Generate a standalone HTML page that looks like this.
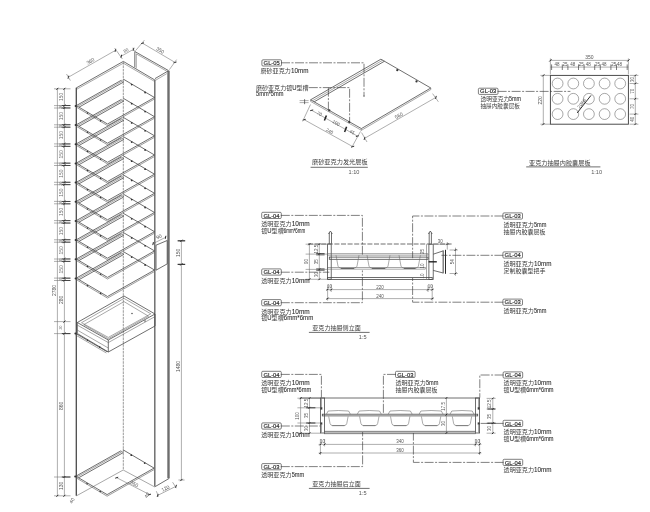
<!DOCTYPE html>
<html lang="zh">
<head>
<meta charset="utf-8">
<title>亚克力展柜节点图</title>
<style>
html,body{margin:0;padding:0;background:#fff;}
body{width:650px;height:512px;overflow:hidden;font-family:"Liberation Sans",sans-serif;}
svg{display:block;position:absolute;left:0;top:0;}
.ink{filter:blur(.3px);}
.txt{filter:blur(.15px);}
line,polyline,polygon,path,rect,circle{fill:none;stroke-linecap:butt;stroke-linejoin:miter;}
.k{stroke:#4a4a4a;stroke-width:.8;}
.k2{stroke:#5a5a5a;stroke-width:.6;}
.kr{stroke:#444;stroke-width:.95;}
.h3{stroke:#666;stroke-width:1.4;}
.cd{stroke:#555;stroke-width:.6;stroke-dasharray:2.6 .8;}
.kf{stroke:#555;stroke-width:.6;fill:#bbb;}
.t{stroke:#606060;stroke-width:.55;}
.cp{stroke:#666;stroke-width:.55;}
.d{stroke:#6c6c6c;stroke-width:.55;}
.dk{stroke:#2a2a2a;stroke-width:1;}
.dk2{stroke:#444;stroke-width:.7;}
.h{stroke:#6e6e6e;stroke-width:2.4;}
.h2{stroke:#4a4a4a;stroke-width:1.3;}
.hk{stroke:#2a2a2a;stroke-width:1;}
.hk2{stroke:#222;stroke-width:1.4;}
.ld{stroke:#3c3c3c;stroke-width:.65;stroke-dasharray:9 1.5 2 1.5;}
.tg{stroke:#3a3a3a;stroke-width:.65;fill:#fff;}
.dot{fill:#333;stroke:none;}
.blk{fill:#3a3a3a;stroke:none;}
.blk2{stroke:#222;stroke-width:1.5;}
text{font-family:"Liberation Sans",sans-serif;fill:#555;stroke:none;}
.tx{font-size:6.3px;fill:#2e2e2e;stroke:#2e2e2e;stroke-width:.08px;}
.cj{font-family:"Liberation Sans","Noto Sans CJK SC",sans-serif;fill:#3c3c3c;stroke:none;}
.tt{font-size:6.1px;fill:#262626;stroke:#262626;stroke-width:.16px;}
.sc{font-size:5.6px;fill:#555;}
.dm{font-size:5px;fill:#555;}
.ds{font-size:4.5px;fill:#555;}
.dx{font-size:4.5px;fill:#555;}
.dz{font-size:3.4px;fill:#777;}
.dl{font-size:4.9px;fill:#707070;}
</style>
</head>
<body>
<svg width="650" height="512" viewBox="0 0 650 512">
<g class="ink">
<g id="cabinet">
<line class="h2" x1="76.3" y1="87.8" x2="76.3" y2="495.8"/>
<polyline class="k" points="76.3,87.9 123.3,61.4 154.5,79.8"/>
<polyline class="t" points="76.3,89.5 123.3,63.2 154.5,81.4"/>
<line class="cd" x1="123.3" y1="62" x2="123.3" y2="470"/>
<line class="h3" x1="154.8" y1="79.4" x2="154.8" y2="486.6"/>
<line class="h" x1="168.5" y1="70.8" x2="168.5" y2="478.2"/>
<line class="k" x1="155" y1="78.6" x2="168.4" y2="70.8"/>
<line class="t" x1="155.4" y1="80.4" x2="166.8" y2="73.6"/>
<polyline class="k" points="134.8,67.3 134.8,51.5 168.4,70.5"/>
<polyline class="t" points="136.3,68.2 136.3,53.9 166.8,71.2"/>
<polyline class="k" points="169.2,478.4 155.2,486.6"/>
<polyline class="t" points="76.5,495.8 123.2,470 154.8,487"/>
<polyline class="k" points="76.3,105.6 121.2,80.3"/>
<polyline class="t" points="77.5,106.3 122.4,81"/>
<polyline class="k" points="79,107.2 123.8,81.9"/>
<polyline class="t" points="121.2,80.3 123.8,81.9"/>
<polyline class="k" points="123.3,79.1 154.5,97.5 107.5,124 76.3,105.6"/>
<polyline class="k2" points="76.3,107.1 107.5,125.6 154.5,99"/>
<circle class="dot" cx="131.7" cy="84.6" r="0.9"/>
<circle class="dot" cx="145.1" cy="92.5" r="0.9"/>
<circle class="dot" cx="87.5" cy="113.1" r="0.8"/>
<circle class="dot" cx="100.6" cy="120.9" r="0.8"/>
<circle class="dot" cx="75.6" cy="105.9" r="1"/>
<polyline class="k" points="76.3,124.8 121.2,99.5"/>
<polyline class="t" points="77.5,125.5 122.4,100.2"/>
<polyline class="k" points="79,126.3 123.8,101"/>
<polyline class="t" points="121.2,99.5 123.8,101"/>
<polyline class="k" points="123.3,98.3 154.5,116.7 107.5,143.2 76.3,124.8"/>
<polyline class="k2" points="76.3,126.3 107.5,144.8 154.5,118.2"/>
<circle class="dot" cx="131.7" cy="103.7" r="0.9"/>
<circle class="dot" cx="145.1" cy="111.6" r="0.9"/>
<circle class="dot" cx="87.5" cy="132.3" r="0.8"/>
<circle class="dot" cx="100.6" cy="140" r="0.8"/>
<circle class="dot" cx="75.6" cy="125.1" r="1"/>
<polyline class="k" points="76.3,143.9 121.2,118.6"/>
<polyline class="t" points="77.5,144.7 122.4,119.4"/>
<polyline class="k" points="79,145.5 123.8,120.2"/>
<polyline class="t" points="121.2,118.6 123.8,120.2"/>
<polyline class="k" points="123.3,117.4 154.5,135.8 107.5,162.3 76.3,143.9"/>
<polyline class="k2" points="76.3,145.4 107.5,163.9 154.5,137.3"/>
<circle class="dot" cx="131.7" cy="122.9" r="0.9"/>
<circle class="dot" cx="145.1" cy="130.8" r="0.9"/>
<circle class="dot" cx="87.5" cy="151.5" r="0.8"/>
<circle class="dot" cx="100.6" cy="159.2" r="0.8"/>
<circle class="dot" cx="75.6" cy="144.2" r="1"/>
<polyline class="k" points="76.3,163.1 121.2,137.8"/>
<polyline class="t" points="77.5,163.8 122.4,138.5"/>
<polyline class="k" points="79,164.7 123.8,139.4"/>
<polyline class="t" points="121.2,137.8 123.8,139.4"/>
<polyline class="k" points="123.3,136.6 154.5,155 107.5,181.5 76.3,163.1"/>
<polyline class="k2" points="76.3,164.6 107.5,183.1 154.5,156.5"/>
<circle class="dot" cx="131.7" cy="142.1" r="0.9"/>
<circle class="dot" cx="145.1" cy="150" r="0.9"/>
<circle class="dot" cx="87.5" cy="170.6" r="0.8"/>
<circle class="dot" cx="100.6" cy="178.4" r="0.8"/>
<circle class="dot" cx="75.6" cy="163.4" r="1"/>
<polyline class="k" points="76.3,182.3 121.2,157"/>
<polyline class="t" points="77.5,183 122.4,157.7"/>
<polyline class="k" points="79,183.8 123.8,158.5"/>
<polyline class="t" points="121.2,157 123.8,158.5"/>
<polyline class="k" points="123.3,155.8 154.5,174.2 107.5,200.7 76.3,182.3"/>
<polyline class="k2" points="76.3,183.8 107.5,202.3 154.5,175.7"/>
<circle class="dot" cx="131.7" cy="161.2" r="0.9"/>
<circle class="dot" cx="145.1" cy="169.2" r="0.9"/>
<circle class="dot" cx="87.5" cy="189.8" r="0.8"/>
<circle class="dot" cx="100.6" cy="197.5" r="0.8"/>
<circle class="dot" cx="75.6" cy="182.6" r="1"/>
<polyline class="k" points="76.3,201.4 121.2,176.1"/>
<polyline class="t" points="77.5,202.2 122.4,176.9"/>
<polyline class="k" points="79,203 123.8,177.7"/>
<polyline class="t" points="121.2,176.1 123.8,177.7"/>
<polyline class="k" points="123.3,174.9 154.5,193.3 107.5,219.8 76.3,201.4"/>
<polyline class="k2" points="76.3,202.9 107.5,221.4 154.5,194.8"/>
<circle class="dot" cx="131.7" cy="180.4" r="0.9"/>
<circle class="dot" cx="145.1" cy="188.3" r="0.9"/>
<circle class="dot" cx="87.5" cy="209" r="0.8"/>
<circle class="dot" cx="100.6" cy="216.7" r="0.8"/>
<circle class="dot" cx="75.6" cy="201.8" r="1"/>
<polyline class="k" points="76.3,220.6 121.2,195.3"/>
<polyline class="t" points="77.5,221.4 122.4,196"/>
<polyline class="k" points="79,222.2 123.8,196.9"/>
<polyline class="t" points="121.2,195.3 123.8,196.9"/>
<polyline class="k" points="123.3,194.1 154.5,212.5 107.5,239 76.3,220.6"/>
<polyline class="k2" points="76.3,222.1 107.5,240.6 154.5,214"/>
<circle class="dot" cx="131.7" cy="199.6" r="0.9"/>
<circle class="dot" cx="145.1" cy="207.5" r="0.9"/>
<circle class="dot" cx="87.5" cy="228.1" r="0.8"/>
<circle class="dot" cx="100.6" cy="235.9" r="0.8"/>
<circle class="dot" cx="75.6" cy="220.9" r="1"/>
<polyline class="k" points="76.3,239.8 121.2,214.5"/>
<polyline class="t" points="77.5,240.5 122.4,215.2"/>
<polyline class="k" points="79,241.4 123.8,216"/>
<polyline class="t" points="121.2,214.5 123.8,216"/>
<polyline class="k" points="123.3,213.3 154.5,231.7 107.5,258.2 76.3,239.8"/>
<polyline class="k2" points="76.3,241.3 107.5,259.8 154.5,233.2"/>
<circle class="dot" cx="131.7" cy="218.8" r="0.9"/>
<circle class="dot" cx="145.1" cy="226.7" r="0.9"/>
<circle class="dot" cx="87.5" cy="247.3" r="0.8"/>
<circle class="dot" cx="100.6" cy="255" r="0.8"/>
<circle class="dot" cx="75.6" cy="240.1" r="1"/>
<polyline class="k" points="76.3,259 121.2,233.7"/>
<polyline class="t" points="77.5,259.7 122.4,234.4"/>
<polyline class="k" points="79,260.5 123.8,235.2"/>
<polyline class="t" points="121.2,233.7 123.8,235.2"/>
<polyline class="k" points="123.3,232.5 154.5,250.9 107.5,277.4 76.3,259"/>
<polyline class="k2" points="76.3,260.5 107.5,279 154.5,252.4"/>
<circle class="dot" cx="131.7" cy="237.9" r="0.9"/>
<circle class="dot" cx="145.1" cy="245.8" r="0.9"/>
<circle class="dot" cx="87.5" cy="266.5" r="0.8"/>
<circle class="dot" cx="100.6" cy="274.2" r="0.8"/>
<circle class="dot" cx="75.6" cy="259.3" r="1"/>
<polyline class="k" points="76.3,278.1 121.2,252.8"/>
<polyline class="t" points="77.5,278.9 122.4,253.6"/>
<polyline class="k" points="79,279.7 123.8,254.4"/>
<polyline class="t" points="121.2,252.8 123.8,254.4"/>
<polyline class="k" points="123.3,251.6 154.5,270 107.5,296.5 76.3,278.1"/>
<polyline class="k2" points="76.3,279.6 107.5,298.1 154.5,271.5"/>
<circle class="dot" cx="131.7" cy="257.1" r="0.9"/>
<circle class="dot" cx="145.1" cy="265" r="0.9"/>
<circle class="dot" cx="87.5" cy="285.7" r="0.8"/>
<circle class="dot" cx="100.6" cy="293.4" r="0.8"/>
<circle class="dot" cx="75.6" cy="278.4" r="1"/>
<polygon class="k" points="77.3,322.5 124,296 155,314 108.3,340"/>
<polygon class="t" points="81.5,322.7 124,298.4 150.8,313.8 108.3,337.4"/>
<polygon class="t" points="83.8,324.7 124,301.6 148.5,316.2 108.3,338.8"/>
<polyline class="k" points="77.3,322.5 77.3,333.5 108.3,352 155,326 155,314"/>
<line class="k" x1="108.3" y1="340" x2="108.3" y2="352"/>
<polyline class="t" points="77.3,325.1 108.3,342.6 155,316.6"/>
<line class="t" x1="77.3" y1="330.1" x2="108.3" y2="348"/>
<polyline class="k" points="75.6,333.4 107.2,351.8"/>
<polyline class="t" points="75.6,335 106.4,353"/>
<circle class="dot" cx="75.4" cy="333.6" r="1"/>
<circle class="dot" cx="87.5" cy="340.2" r="0.8"/>
<circle class="dot" cx="99.7" cy="347.1" r="0.8"/>
<circle class="dot" cx="132" cy="313.5" r="0.7"/>
<circle class="dot" cx="145" cy="321" r="0.7"/>
<polyline class="k" points="75.9,476.2 120.8,450.9"/>
<polyline class="t" points="77.1,476.9 122,451.6"/>
<polyline class="k" points="78.6,477.8 123.4,452.5"/>
<polyline class="t" points="120.8,450.9 123.4,452.5"/>
<polyline class="k" points="122.9,449.7 154.1,468.1 107.1,494.6 75.9,476.2"/>
<polyline class="k2" points="75.9,477.7 107.1,496.2 154.1,469.6"/>
<circle class="dot" cx="131.3" cy="455.2" r="0.9"/>
<circle class="dot" cx="144.7" cy="463.1" r="0.9"/>
<circle class="dot" cx="87.1" cy="483.7" r="0.8"/>
<circle class="dot" cx="100.2" cy="491.5" r="0.8"/>
<circle class="dot" cx="75.2" cy="476.5" r="1"/>
<polygon class="k" points="156,245.2 167.2,240.5 167.2,263.9 156,270.2"/>
<line class="d" x1="153.1" y1="243.6" x2="165.6" y2="237.3"/>
<line class="dk" x1="152.8" y1="245.1" x2="153.4" y2="242.1"/>
<line class="dk" x1="165.3" y1="238.8" x2="165.9" y2="235.8"/>
<line class="d" x1="57.4" y1="88.8" x2="57.4" y2="495.8"/>
<line class="d" x1="64.4" y1="88.8" x2="64.4" y2="495.8"/>
<line class="d" x1="54" y1="88.8" x2="70.5" y2="88.8"/>
<line class="dk" x1="63.4" y1="89.8" x2="65.4" y2="87.8"/>
<line class="d" x1="54" y1="105.6" x2="70.5" y2="105.6"/>
<line class="dk" x1="63.4" y1="106.6" x2="65.4" y2="104.6"/>
<line class="d" x1="54" y1="108" x2="70.5" y2="108"/>
<line class="dk" x1="63.4" y1="109" x2="65.4" y2="107"/>
<line class="d" x1="54" y1="124.8" x2="70.5" y2="124.8"/>
<line class="dk" x1="63.4" y1="125.8" x2="65.4" y2="123.8"/>
<line class="d" x1="54" y1="127.2" x2="70.5" y2="127.2"/>
<line class="dk" x1="63.4" y1="128.2" x2="65.4" y2="126.2"/>
<line class="d" x1="54" y1="143.9" x2="70.5" y2="143.9"/>
<line class="dk" x1="63.4" y1="144.9" x2="65.4" y2="143"/>
<line class="d" x1="54" y1="146.3" x2="70.5" y2="146.3"/>
<line class="dk" x1="63.4" y1="147.3" x2="65.4" y2="145.4"/>
<line class="d" x1="54" y1="163.1" x2="70.5" y2="163.1"/>
<line class="dk" x1="63.4" y1="164.1" x2="65.4" y2="162.1"/>
<line class="d" x1="54" y1="165.5" x2="70.5" y2="165.5"/>
<line class="dk" x1="63.4" y1="166.5" x2="65.4" y2="164.5"/>
<line class="d" x1="54" y1="182.3" x2="70.5" y2="182.3"/>
<line class="dk" x1="63.4" y1="183.3" x2="65.4" y2="181.3"/>
<line class="d" x1="54" y1="184.7" x2="70.5" y2="184.7"/>
<line class="dk" x1="63.4" y1="185.7" x2="65.4" y2="183.7"/>
<line class="d" x1="54" y1="201.4" x2="70.5" y2="201.4"/>
<line class="dk" x1="63.4" y1="202.4" x2="65.4" y2="200.5"/>
<line class="d" x1="54" y1="203.8" x2="70.5" y2="203.8"/>
<line class="dk" x1="63.4" y1="204.8" x2="65.4" y2="202.9"/>
<line class="d" x1="54" y1="220.6" x2="70.5" y2="220.6"/>
<line class="dk" x1="63.4" y1="221.6" x2="65.4" y2="219.6"/>
<line class="d" x1="54" y1="223" x2="70.5" y2="223"/>
<line class="dk" x1="63.4" y1="224" x2="65.4" y2="222"/>
<line class="d" x1="54" y1="239.8" x2="70.5" y2="239.8"/>
<line class="dk" x1="63.4" y1="240.8" x2="65.4" y2="238.8"/>
<line class="d" x1="54" y1="242.2" x2="70.5" y2="242.2"/>
<line class="dk" x1="63.4" y1="243.2" x2="65.4" y2="241.2"/>
<line class="d" x1="54" y1="259" x2="70.5" y2="259"/>
<line class="dk" x1="63.4" y1="259.9" x2="65.4" y2="258"/>
<line class="d" x1="54" y1="261.4" x2="70.5" y2="261.4"/>
<line class="dk" x1="63.4" y1="262.3" x2="65.4" y2="260.4"/>
<line class="d" x1="54" y1="278.1" x2="70.5" y2="278.1"/>
<line class="dk" x1="63.4" y1="279.1" x2="65.4" y2="277.1"/>
<line class="d" x1="54" y1="280.5" x2="70.5" y2="280.5"/>
<line class="dk" x1="63.4" y1="281.5" x2="65.4" y2="279.5"/>
<line class="d" x1="54" y1="321.6" x2="70.5" y2="321.6"/>
<line class="dk" x1="63.4" y1="322.6" x2="65.4" y2="320.6"/>
<line class="d" x1="54" y1="333.6" x2="70.5" y2="333.6"/>
<line class="dk" x1="63.4" y1="334.6" x2="65.4" y2="332.6"/>
<line class="d" x1="54" y1="477" x2="70.5" y2="477"/>
<line class="dk" x1="63.4" y1="478" x2="65.4" y2="476"/>
<line class="d" x1="54" y1="495.8" x2="70.5" y2="495.8"/>
<line class="dk" x1="63.4" y1="496.8" x2="65.4" y2="494.8"/>
<line class="dk" x1="56.4" y1="89.8" x2="58.4" y2="87.8"/>
<line class="dk" x1="56.4" y1="496.8" x2="58.4" y2="494.8"/>
<rect class="blk" x="61.8" y="105.1" width="8.6" height="0.9"/><rect class="blk" x="61.8" y="107.5" width="8.6" height="0.9"/>
<rect class="blk" x="61.8" y="124.3" width="8.6" height="0.9"/><rect class="blk" x="61.8" y="126.7" width="8.6" height="0.9"/>
<rect class="blk" x="61.8" y="143.5" width="8.6" height="0.9"/><rect class="blk" x="61.8" y="145.9" width="8.6" height="0.9"/>
<rect class="blk" x="61.8" y="162.7" width="8.6" height="0.9"/><rect class="blk" x="61.8" y="165.1" width="8.6" height="0.9"/>
<rect class="blk" x="61.8" y="181.8" width="8.6" height="0.9"/><rect class="blk" x="61.8" y="184.2" width="8.6" height="0.9"/>
<rect class="blk" x="61.8" y="201" width="8.6" height="0.9"/><rect class="blk" x="61.8" y="203.4" width="8.6" height="0.9"/>
<rect class="blk" x="61.8" y="220.2" width="8.6" height="0.9"/><rect class="blk" x="61.8" y="222.6" width="8.6" height="0.9"/>
<rect class="blk" x="61.8" y="239.3" width="8.6" height="0.9"/><rect class="blk" x="61.8" y="241.7" width="8.6" height="0.9"/>
<rect class="blk" x="61.8" y="258.5" width="8.6" height="0.9"/><rect class="blk" x="61.8" y="260.9" width="8.6" height="0.9"/>
<rect class="blk" x="61.8" y="277.7" width="8.6" height="0.9"/><rect class="blk" x="61.8" y="280.1" width="8.6" height="0.9"/>
<rect class="blk" x="61.8" y="333.1" width="8.6" height="1"/>
<rect class="blk" x="61.8" y="476.5" width="8.6" height="1"/>
<line class="d" x1="68.4" y1="77.2" x2="115.4" y2="50.4"/>
<line class="dk" x1="68" y1="78.7" x2="68.8" y2="75.7"/>
<line class="dk" x1="115" y1="51.9" x2="115.8" y2="48.9"/>
<line class="d" x1="66.5" y1="74" x2="70.4" y2="80.6"/>
<line class="d" x1="114.6" y1="48" x2="122.4" y2="59"/>
<line class="d" x1="121.3" y1="56.2" x2="133.5" y2="49.3"/>
<line class="dk" x1="120.9" y1="57.7" x2="121.7" y2="54.7"/>
<line class="dk" x1="133.1" y1="50.8" x2="133.9" y2="47.8"/>
<line class="d" x1="132.6" y1="47.8" x2="134.6" y2="51.2"/>
<line class="d" x1="142.5" y1="43.2" x2="175" y2="62.4"/>
<line class="dk" x1="141" y1="43.6" x2="144" y2="42.8"/>
<line class="dk" x1="173.5" y1="62.8" x2="176.5" y2="62"/>
<line class="d" x1="144.4" y1="40.2" x2="135.6" y2="50.6"/>
<line class="d" x1="176.6" y1="59.6" x2="169.4" y2="69.6"/>
<line class="d" x1="181.4" y1="240.8" x2="181.4" y2="480"/>
<line class="d" x1="178.4" y1="240.8" x2="184.6" y2="240.8"/>
<line class="dk" x1="180.3" y1="241.9" x2="182.5" y2="239.7"/>
<line class="d" x1="178.4" y1="264.4" x2="184.6" y2="264.4"/>
<line class="dk" x1="180.3" y1="265.5" x2="182.5" y2="263.3"/>
<line class="d" x1="178.4" y1="480" x2="184.6" y2="480"/>
<line class="dk" x1="180.3" y1="481.1" x2="182.5" y2="478.9"/>
<rect class="blk" x="177.6" y="240.2" width="7.6" height="1.2"/><rect class="blk" x="177.6" y="263.8" width="7.6" height="1.2"/>
<line class="d" x1="116.7" y1="477.7" x2="149.5" y2="494.6"/>
<line class="dk" x1="115.2" y1="478.2" x2="118.2" y2="477.2"/>
<line class="dk" x1="148" y1="495.1" x2="151" y2="494.1"/>
<line class="d" x1="157.7" y1="495.4" x2="176" y2="486.3"/>
<line class="dk" x1="157.2" y1="496.9" x2="158.2" y2="493.9"/>
<line class="dk" x1="175.5" y1="487.8" x2="176.5" y2="484.8"/>
<line class="d" x1="156.3" y1="491.2" x2="158.6" y2="496.6"/>
<line class="d" x1="172.6" y1="482.2" x2="176.4" y2="488.2"/>
</g>
<g id="s1">
<polygon class="k" points="310.6,99.8 380.9,59.2 430.8,88 361.4,128.6"/>
<polyline class="t" points="310.6,101.4 361.4,130.3 430.8,89.6"/>
<line class="t" x1="310.6" y1="99.8" x2="310.6" y2="101.4"/>
<line class="t" x1="361.4" y1="128.6" x2="361.4" y2="130.3"/>
<line class="t" x1="430.8" y1="88" x2="430.8" y2="89.6"/>
<polyline class="k" points="314.2,101.8 384.5,61.2"/>
<polyline class="t" points="312.4,100.8 382.7,60.2"/>
<circle class="dot" cx="397.3" cy="70.2" r="1.1"/>
<circle class="dot" cx="416.5" cy="81.4" r="1.1"/>
<circle class="dot" cx="329.3" cy="110.4" r="1.1"/>
<circle class="dot" cx="349.2" cy="122" r="1.1"/>
<rect class="tg" x="261.9" y="59.8" width="19.6" height="6.2" rx="1.1"/>
<polyline class="ld" points="281,62.8 364,62.8 364,95.5"/>
<circle class="dot" cx="364" cy="96" r="0.7"/>
<polyline class="ld" points="308.8,87.6 349.6,87.6 349.6,121.4"/>
<line class="ld" x1="328.4" y1="87.6" x2="328.4" y2="110"/>
<line class="d" x1="299.6" y1="100.6" x2="308.6" y2="100.6"/>
<line class="d" x1="299.6" y1="102.6" x2="308.6" y2="102.6"/>
<line class="k" x1="304.6" y1="99.2" x2="304.6" y2="104.2"/>
<line class="d" x1="311.7" y1="110.3" x2="357.4" y2="136.1"/>
<line class="dk" x1="310.2" y1="110.7" x2="313.2" y2="109.9"/>
<line class="dk" x1="355.9" y1="136.5" x2="358.9" y2="135.7"/>
<line class="d" x1="304.2" y1="119.7" x2="352.7" y2="146.6"/>
<line class="dk" x1="302.7" y1="120.1" x2="305.7" y2="119.3"/>
<line class="dk" x1="351.2" y1="147" x2="354.2" y2="146.2"/>
<line class="d" x1="310.5" y1="104.5" x2="302.6" y2="121.4"/>
<line class="d" x1="360.5" y1="131.4" x2="351.4" y2="148"/>
<line class="blk2" x1="324.4" y1="120.6" x2="326.4" y2="115.4"/>
<line class="blk2" x1="344.6" y1="132" x2="346.6" y2="126.8"/>
<line class="d" x1="364.5" y1="138.4" x2="435.9" y2="97.4"/>
<line class="dk" x1="364.1" y1="139.9" x2="364.9" y2="136.9"/>
<line class="dk" x1="435.5" y1="98.9" x2="436.3" y2="95.9"/>
<line class="d" x1="361.6" y1="132.6" x2="367" y2="142"/>
<line class="d" x1="432.6" y1="93.6" x2="438.4" y2="101.8"/>
<line class="k" x1="310.6" y1="167.3" x2="367.8" y2="167.3"/>
</g>
<g id="s2">
<rect class="kr" x="550.4" y="75.4" width="78" height="48.8"/>
<circle class="t" cx="557.6" cy="83.5" r="5.4"/>
<circle class="t" cx="573.3" cy="83.5" r="5.4"/>
<circle class="t" cx="588.9" cy="83.5" r="5.4"/>
<circle class="t" cx="604.6" cy="83.5" r="5.4"/>
<circle class="t" cx="620.2" cy="83.5" r="5.4"/>
<circle class="t" cx="557.6" cy="98.8" r="5.4"/>
<circle class="t" cx="573.3" cy="98.8" r="5.4"/>
<circle class="t" cx="588.9" cy="98.8" r="5.4"/>
<circle class="t" cx="604.6" cy="98.8" r="5.4"/>
<circle class="t" cx="620.2" cy="98.8" r="5.4"/>
<circle class="t" cx="557.6" cy="114.1" r="5.4"/>
<circle class="t" cx="573.3" cy="114.1" r="5.4"/>
<circle class="t" cx="588.9" cy="114.1" r="5.4"/>
<circle class="t" cx="604.6" cy="114.1" r="5.4"/>
<circle class="t" cx="620.2" cy="114.1" r="5.4"/>
<line class="d" x1="550.4" y1="60.4" x2="628.4" y2="60.4"/>
<line class="d" x1="550.4" y1="67.1" x2="628.4" y2="67.1"/>
<line class="dk2" x1="551.6" y1="64.4" x2="551.6" y2="70"/>
<line class="dk2" x1="562.3" y1="64.4" x2="562.3" y2="70"/>
<line class="dk2" x1="567.9" y1="64.4" x2="567.9" y2="70"/>
<line class="dk2" x1="578.5" y1="64.4" x2="578.5" y2="70"/>
<line class="dk2" x1="584.1" y1="64.4" x2="584.1" y2="70"/>
<line class="dk2" x1="594.7" y1="64.4" x2="594.7" y2="70"/>
<line class="dk2" x1="600.3" y1="64.4" x2="600.3" y2="70"/>
<line class="dk2" x1="610.9" y1="64.4" x2="610.9" y2="70"/>
<line class="dk2" x1="616.5" y1="64.4" x2="616.5" y2="70"/>
<line class="dk2" x1="627.2" y1="64.4" x2="627.2" y2="70"/>
<line class="d" x1="550.4" y1="58.4" x2="550.4" y2="74.4"/>
<line class="dk" x1="549.3" y1="61.5" x2="551.5" y2="59.3"/>
<line class="d" x1="628.4" y1="58.4" x2="628.4" y2="74.4"/>
<line class="dk" x1="627.3" y1="61.5" x2="629.5" y2="59.3"/>
<line class="d" x1="543.3" y1="75.4" x2="543.3" y2="124.2"/>
<line class="d" x1="540.4" y1="75.4" x2="550.4" y2="75.4"/>
<line class="dk" x1="542.2" y1="76.5" x2="544.4" y2="74.3"/>
<line class="d" x1="540.4" y1="124.2" x2="550.4" y2="124.2"/>
<line class="dk" x1="542.2" y1="125.3" x2="544.4" y2="123.1"/>
<line class="d" x1="635.3" y1="75.4" x2="635.3" y2="124.2"/>
<line class="d" x1="629.6" y1="75.4" x2="638.4" y2="75.4"/>
<line class="dk" x1="634.4" y1="76.3" x2="636.2" y2="74.5"/>
<line class="d" x1="629.6" y1="83.5" x2="638.4" y2="83.5"/>
<line class="dk" x1="634.4" y1="84.4" x2="636.2" y2="82.6"/>
<line class="d" x1="629.6" y1="98.8" x2="638.4" y2="98.8"/>
<line class="dk" x1="634.4" y1="99.7" x2="636.2" y2="97.9"/>
<line class="d" x1="629.6" y1="114.1" x2="638.4" y2="114.1"/>
<line class="dk" x1="634.4" y1="115" x2="636.2" y2="113.2"/>
<line class="d" x1="629.6" y1="124.2" x2="638.4" y2="124.2"/>
<line class="dk" x1="634.4" y1="125.1" x2="636.2" y2="123.3"/>
<rect class="tg" x="478.4" y="88.2" width="19.6" height="6.2" rx="1.1"/>
<line class="ld" x1="497.6" y1="91.4" x2="570.4" y2="91.4"/>
<line class="hk" x1="577.2" y1="112.9" x2="591" y2="95.4"/>
<line class="k" x1="526.2" y1="166.9" x2="600.4" y2="166.9"/>
</g>
<g id="s3">
<line class="k" x1="308" y1="244" x2="452" y2="244" stroke-dasharray="5 1.6"/>
<rect class="k" x="327.6" y="244" width="3.6" height="35.2"/>
<rect class="k" x="428.9" y="244.2" width="4.3" height="35.2"/>
<line class="t" x1="426.5" y1="244.2" x2="426.5" y2="279"/>
<rect class="t" x="327.6" y="253.8" width="100.4" height="1.3"/>
<rect class="k" x="329.3" y="257.1" width="98.7" height="2.2"/>
<rect class="t" x="327.6" y="267.6" width="97.6" height="1.5"/>
<rect class="k" x="327.6" y="277.5" width="104.6" height="1.9"/>
<path class="cp" d="M336 255.2 L338 266.2 Q339.4 268.4 341.6 268.4 L353.4 268.4 Q355.6 268.4 357 266.2 L359 255.2"/>
<line class="k" x1="340.9" y1="268.4" x2="354.1" y2="268.4"/>
<path class="cp" d="M367 255.2 L369 266.2 Q370.4 268.4 372.6 268.4 L384.4 268.4 Q386.6 268.4 388 266.2 L390 255.2"/>
<line class="k" x1="371.9" y1="268.4" x2="385.1" y2="268.4"/>
<path class="cp" d="M399 255.2 L401 266.2 Q402.4 268.4 404.6 268.4 L414.8 268.4 Q417 268.4 418.4 266.2 L420.4 255.2"/>
<line class="k" x1="403.9" y1="268.4" x2="415.5" y2="268.4"/>
<line class="k" x1="329.3" y1="232.6" x2="329.3" y2="243.8"/>
<line class="k" x1="331.5" y1="232.6" x2="331.5" y2="243.8"/>
<polyline class="k" points="328.5,234 330.4,231 332.3,234"/>
<line class="k" x1="429.2" y1="232.6" x2="429.2" y2="243.8"/>
<line class="k" x1="431.4" y1="232.6" x2="431.4" y2="243.8"/>
<polyline class="k" points="428.4,234 430.3,231 432.2,234"/>
<polyline class="k" points="433.2,254.2 443.2,250.9 443.2,273 433.2,270.4"/>
<line class="t" x1="443.2" y1="250" x2="443.2" y2="273.6"/>
<line class="hk" x1="445.5" y1="249.8" x2="445.5" y2="273.8"/>
<line class="hk2" x1="428.6" y1="261.8" x2="436.8" y2="261.8"/>
<line class="d" x1="309.4" y1="243.6" x2="309.4" y2="279.3"/>
<line class="d" x1="319.3" y1="243.6" x2="319.3" y2="279.3"/>
<line class="d" x1="305.6" y1="244.2" x2="327.6" y2="244.2"/>
<line class="dk" x1="318.4" y1="245.1" x2="320.2" y2="243.3"/>
<line class="d" x1="305.6" y1="254.1" x2="327.6" y2="254.1"/>
<line class="dk" x1="318.4" y1="255" x2="320.2" y2="253.2"/>
<line class="d" x1="305.6" y1="269.4" x2="327.6" y2="269.4"/>
<line class="dk" x1="318.4" y1="270.3" x2="320.2" y2="268.5"/>
<line class="d" x1="305.6" y1="279.3" x2="327.6" y2="279.3"/>
<line class="dk" x1="318.4" y1="280.2" x2="320.2" y2="278.4"/>
<line class="dk" x1="308.4" y1="245.2" x2="310.4" y2="243.2"/>
<line class="dk" x1="308.4" y1="280.3" x2="310.4" y2="278.3"/>
<rect class="blk" x="316.2" y="253.2" width="8.4" height="0.8"/><rect class="blk" x="316.2" y="254.5" width="8.4" height="0.8"/>
<rect class="blk" x="316.2" y="268.5" width="8.4" height="0.8"/><rect class="blk" x="316.2" y="269.8" width="8.4" height="0.8"/>
<line class="d" x1="326" y1="289.6" x2="434" y2="289.6"/>
<line class="d" x1="326" y1="298.6" x2="434" y2="298.6"/>
<line class="d" x1="327.6" y1="285" x2="327.6" y2="300.6"/>
<line class="dk" x1="326.7" y1="290.5" x2="328.5" y2="288.7"/>
<line class="d" x1="331.2" y1="285" x2="331.2" y2="292"/>
<line class="dk" x1="330.3" y1="290.5" x2="332.1" y2="288.7"/>
<line class="d" x1="428" y1="285" x2="428" y2="292"/>
<line class="dk" x1="427.1" y1="290.5" x2="428.9" y2="288.7"/>
<line class="d" x1="432.2" y1="285" x2="432.2" y2="300.6"/>
<line class="dk" x1="431.3" y1="290.5" x2="433.1" y2="288.7"/>
<line class="dk" x1="326.6" y1="299.6" x2="328.6" y2="297.6"/>
<line class="dk" x1="431.2" y1="299.6" x2="433.2" y2="297.6"/>
<line class="d" x1="433.2" y1="244.2" x2="449.4" y2="244.2"/>
<line class="dk" x1="446.4" y1="245.1" x2="448.2" y2="243.3"/>
<line class="d" x1="447.3" y1="242" x2="447.3" y2="249.6"/>
<line class="d" x1="455.5" y1="247.7" x2="455.5" y2="275.8"/>
<line class="d" x1="449.6" y1="250" x2="457.8" y2="250"/>
<line class="dk" x1="454.6" y1="250.9" x2="456.4" y2="249.1"/>
<line class="d" x1="449.6" y1="273.5" x2="457.8" y2="273.5"/>
<line class="dk" x1="454.6" y1="274.4" x2="456.4" y2="272.6"/>
<rect class="tg" x="261.7" y="212.3" width="19.6" height="6.2" rx="1.1"/>
<polyline class="ld" points="280.8,215.4 362.4,215.4 362.4,254.6"/>
<rect class="tg" x="261.7" y="268.9" width="19.6" height="6.2" rx="1.1"/>
<line class="ld" x1="280.8" y1="272.2" x2="329.4" y2="272.2"/>
<rect class="tg" x="261.7" y="299.6" width="19.6" height="6.2" rx="1.1"/>
<polyline class="ld" points="280.8,302.7 362.4,302.7 362.4,270.4"/>
<rect class="tg" x="502.9" y="212.9" width="19.6" height="6.2" rx="1.1"/>
<polyline class="ld" points="503.4,216 412.6,216 412.6,258.2"/>
<rect class="tg" x="502.9" y="251.9" width="19.6" height="6.2" rx="1.1"/>
<line class="ld" x1="503.4" y1="255.3" x2="441.4" y2="255.3"/>
<rect class="tg" x="502.9" y="299.1" width="19.6" height="6.2" rx="1.1"/>
<polyline class="ld" points="503.4,302.2 412.6,302.2 412.6,278"/>
<line class="k" x1="308.9" y1="332.4" x2="369.6" y2="332.4"/>
</g>
<g id="s4">
<line class="k" x1="300" y1="398" x2="480" y2="398"/>
<rect class="k" x="320.4" y="398" width="4.2" height="35"/>
<rect class="k" x="475.4" y="398" width="4.2" height="35"/>
<line class="t" x1="321.5" y1="398.4" x2="321.5" y2="407.2"/>
<line class="t" x1="321.5" y1="424.6" x2="321.5" y2="432.6"/>
<rect class="blk" x="320.4" y="407.2" width="1.9" height="2.4"/><rect class="blk" x="320.4" y="422.4" width="1.9" height="2.2"/>
<line class="t" x1="478.5" y1="398.4" x2="478.5" y2="407.2"/>
<line class="t" x1="478.5" y1="424.6" x2="478.5" y2="432.6"/>
<rect class="blk" x="477.7" y="407.2" width="1.9" height="2.4"/><rect class="blk" x="477.7" y="422.4" width="1.9" height="2.2"/>
<rect class="k" x="322.3" y="414.2" width="155.4" height="1.7"/>
<rect class="kf" x="324.6" y="431.2" width="150.8" height="2.6"/>
<path class="t" d="M326.4 414.2 L328.2 411 Q338.4 410 348.6 411 L350.4 414.2"/>
<path class="cp" d="M328.7 416.4 L330 423.4 Q330.6 425.6 332.6 425.6 L344.2 425.6 Q346.2 425.6 346.8 423.4 L348.1 416.4"/>
<line class="k2" x1="332.1" y1="425.6" x2="344.7" y2="425.6"/>
<path class="t" d="M357.3 414.2 L359.1 411 Q369.3 410 379.5 411 L381.3 414.2"/>
<path class="cp" d="M359.6 416.4 L360.9 423.4 Q361.5 425.6 363.5 425.6 L375.1 425.6 Q377.1 425.6 377.7 423.4 L379 416.4"/>
<line class="k2" x1="363" y1="425.6" x2="375.6" y2="425.6"/>
<path class="t" d="M388.2 414.2 L390 411 Q400.2 410 410.4 411 L412.2 414.2"/>
<path class="cp" d="M390.5 416.4 L391.8 423.4 Q392.4 425.6 394.4 425.6 L406 425.6 Q408 425.6 408.6 423.4 L409.9 416.4"/>
<line class="k2" x1="393.9" y1="425.6" x2="406.5" y2="425.6"/>
<path class="t" d="M419.1 414.2 L420.9 411 Q431.1 410 441.3 411 L443.1 414.2"/>
<path class="cp" d="M421.4 416.4 L422.7 423.4 Q423.3 425.6 425.3 425.6 L436.9 425.6 Q438.9 425.6 439.5 423.4 L440.8 416.4"/>
<line class="k2" x1="424.8" y1="425.6" x2="437.4" y2="425.6"/>
<path class="t" d="M450 414.2 L451.8 411 Q462 410 472.2 411 L474 414.2"/>
<path class="cp" d="M452.3 416.4 L453.6 423.4 Q454.2 425.6 456.2 425.6 L467.8 425.6 Q469.8 425.6 470.4 423.4 L471.7 416.4"/>
<line class="k2" x1="455.7" y1="425.6" x2="468.3" y2="425.6"/>
<line class="d" x1="300.6" y1="398.2" x2="300.6" y2="433.2"/>
<line class="d" x1="309.5" y1="398.2" x2="309.5" y2="433.2"/>
<line class="d" x1="297.4" y1="398.2" x2="320.4" y2="398.2"/>
<line class="dk" x1="308.6" y1="399.1" x2="310.4" y2="397.3"/>
<line class="d" x1="297.4" y1="407.8" x2="320.4" y2="407.8"/>
<line class="dk" x1="308.6" y1="408.7" x2="310.4" y2="406.9"/>
<line class="d" x1="297.4" y1="423" x2="320.4" y2="423"/>
<line class="dk" x1="308.6" y1="423.9" x2="310.4" y2="422.1"/>
<line class="d" x1="297.4" y1="433.2" x2="320.4" y2="433.2"/>
<line class="dk" x1="308.6" y1="434.1" x2="310.4" y2="432.3"/>
<line class="dk" x1="299.6" y1="399.2" x2="301.6" y2="397.2"/>
<line class="dk" x1="299.6" y1="434.2" x2="301.6" y2="432.2"/>
<rect class="blk" x="306.2" y="407.3" width="9.2" height="1"/>
<rect class="blk" x="306.2" y="422.5" width="9.2" height="1"/>
<line class="d" x1="492.8" y1="398.4" x2="492.8" y2="433.2"/>
<line class="d" x1="486.6" y1="398.4" x2="495.6" y2="398.4"/>
<line class="dk" x1="491.9" y1="399.3" x2="493.7" y2="397.5"/>
<line class="d" x1="486.6" y1="409" x2="495.6" y2="409"/>
<line class="dk" x1="491.9" y1="409.9" x2="493.7" y2="408.1"/>
<line class="d" x1="486.6" y1="423.2" x2="495.6" y2="423.2"/>
<line class="dk" x1="491.9" y1="424.1" x2="493.7" y2="422.3"/>
<line class="d" x1="486.6" y1="433.2" x2="495.6" y2="433.2"/>
<line class="dk" x1="491.9" y1="434.1" x2="493.7" y2="432.3"/>
<rect class="blk" x="487.4" y="408.5" width="8" height="1"/>
<rect class="blk" x="487.4" y="422.7" width="8" height="1"/>
<line class="d" x1="446.4" y1="398" x2="446.4" y2="433"/>
<line class="dk" x1="445.5" y1="398.9" x2="447.3" y2="397.1"/>
<line class="dk" x1="445.5" y1="415.5" x2="447.3" y2="413.7"/>
<line class="dk" x1="445.5" y1="433.9" x2="447.3" y2="432.1"/>
<line class="d" x1="318.6" y1="444.4" x2="481.4" y2="444.4"/>
<line class="d" x1="318.6" y1="453" x2="481.4" y2="453"/>
<line class="d" x1="320.4" y1="439" x2="320.4" y2="455"/>
<line class="dk" x1="319.5" y1="445.3" x2="321.3" y2="443.5"/>
<line class="d" x1="324.6" y1="439" x2="324.6" y2="446.4"/>
<line class="dk" x1="323.7" y1="445.3" x2="325.5" y2="443.5"/>
<line class="d" x1="475.4" y1="439" x2="475.4" y2="446.4"/>
<line class="dk" x1="474.5" y1="445.3" x2="476.3" y2="443.5"/>
<line class="d" x1="479.6" y1="439" x2="479.6" y2="455"/>
<line class="dk" x1="478.7" y1="445.3" x2="480.5" y2="443.5"/>
<line class="dk" x1="319.4" y1="454" x2="321.4" y2="452"/>
<line class="dk" x1="478.6" y1="454" x2="480.6" y2="452"/>
<rect class="tg" x="261.7" y="371.3" width="19.6" height="6.2" rx="1.1"/>
<polyline class="ld" points="280.8,374.4 321.4,374.4 321.4,397.6"/>
<rect class="tg" x="261.7" y="422.9" width="19.6" height="6.2" rx="1.1"/>
<line class="ld" x1="280.8" y1="426" x2="320.4" y2="426"/>
<rect class="tg" x="261.7" y="463.6" width="19.6" height="6.2" rx="1.1"/>
<polyline class="ld" points="280.8,466.6 362.6,466.6 362.6,432"/>
<rect class="tg" x="395.5" y="371.3" width="19.6" height="6.2" rx="1.1"/>
<polyline class="ld" points="396,374.4 383.4,374.4 383.4,414"/>
<rect class="tg" x="503.1" y="371.9" width="19.6" height="6.2" rx="1.1"/>
<polyline class="ld" points="503.6,375 479.8,375 479.8,397.6"/>
<rect class="tg" x="503.1" y="420.3" width="19.6" height="6.2" rx="1.1"/>
<line class="ld" x1="503.6" y1="423.4" x2="480.6" y2="423.4"/>
<rect class="tg" x="503.1" y="459.3" width="19.6" height="6.2" rx="1.1"/>
<polyline class="ld" points="503.6,462.4 413.4,462.4 413.4,433"/>
<line class="k" x1="308.9" y1="488.4" x2="369.6" y2="488.4"/>
</g>
</g>
<g class="txt">
<text class="dm" x="157.2" y="239.6" transform="rotate(-27 157.2 239.6)">90</text>
<text class="dl" x="62.6" y="101" transform="rotate(-90 62.6 101)">150</text>
<text class="dz" x="62.4" y="106.8" transform="rotate(-90 62.4 106.8)" text-anchor="middle">30</text>
<text class="dl" x="62.6" y="120.2" transform="rotate(-90 62.6 120.2)">150</text>
<text class="dz" x="62.4" y="126" transform="rotate(-90 62.4 126)" text-anchor="middle">30</text>
<text class="dl" x="62.6" y="139.3" transform="rotate(-90 62.6 139.3)">150</text>
<text class="dz" x="62.4" y="145.1" transform="rotate(-90 62.4 145.1)" text-anchor="middle">30</text>
<text class="dl" x="62.6" y="158.5" transform="rotate(-90 62.6 158.5)">150</text>
<text class="dz" x="62.4" y="164.3" transform="rotate(-90 62.4 164.3)" text-anchor="middle">30</text>
<text class="dl" x="62.6" y="177.7" transform="rotate(-90 62.6 177.7)">150</text>
<text class="dz" x="62.4" y="183.5" transform="rotate(-90 62.4 183.5)" text-anchor="middle">30</text>
<text class="dl" x="62.6" y="196.8" transform="rotate(-90 62.6 196.8)">150</text>
<text class="dz" x="62.4" y="202.6" transform="rotate(-90 62.4 202.6)" text-anchor="middle">30</text>
<text class="dl" x="62.6" y="216" transform="rotate(-90 62.6 216)">150</text>
<text class="dz" x="62.4" y="221.8" transform="rotate(-90 62.4 221.8)" text-anchor="middle">30</text>
<text class="dl" x="62.6" y="235.2" transform="rotate(-90 62.6 235.2)">150</text>
<text class="dz" x="62.4" y="241" transform="rotate(-90 62.4 241)" text-anchor="middle">30</text>
<text class="dl" x="62.6" y="254.4" transform="rotate(-90 62.6 254.4)">150</text>
<text class="dz" x="62.4" y="260.2" transform="rotate(-90 62.4 260.2)" text-anchor="middle">30</text>
<text class="dl" x="62.6" y="273.5" transform="rotate(-90 62.6 273.5)">150</text>
<text class="dz" x="62.4" y="279.3" transform="rotate(-90 62.4 279.3)" text-anchor="middle">30</text>
<text class="dm" x="62.6" y="304" transform="rotate(-90 62.6 304)">280</text>
<text class="dm" x="55.6" y="296" transform="rotate(-90 55.6 296)">2780</text>
<text class="dm" x="62.6" y="410" transform="rotate(-90 62.6 410)">860</text>
<text class="dm" x="62.6" y="490" transform="rotate(-90 62.6 490)">130</text>
<text class="dz" x="62.4" y="327.6" transform="rotate(-90 62.4 327.6)" text-anchor="middle">30</text>
<text class="dm" x="91.9" y="63.8" text-anchor="middle" transform="rotate(-29.7 91.9 63.8) translate(0 -1.2)">360</text>
<text class="ds" x="127.4" y="52.8" text-anchor="middle" transform="rotate(-29.5 127.4 52.8) translate(0 -1.2)">80</text>
<text class="dm" x="158.8" y="52.8" text-anchor="middle" transform="rotate(30.6 158.8 52.8) translate(0 -1.2)">350</text>
<text class="dm" x="180.2" y="257" transform="rotate(-90 180.2 257)">150</text>
<text class="dm" x="180.2" y="372" transform="rotate(-90 180.2 372)">1480</text>
<text class="dm" x="133.1" y="486.1" text-anchor="middle" transform="rotate(27.3 133.1 486.1) translate(0 -0.8)">350</text>
<text class="dm" x="166.8" y="490.9" text-anchor="middle" transform="rotate(-26.4 166.8 490.9) translate(0 -1)">120</text>
<text class="dm" x="72" y="504" transform="rotate(-60 72 504)">40</text>
<text class="dm" x="147" y="498.4" transform="rotate(-60 147 498.4)">40</text>
<text class="tt" x="271.7" y="65" textLength="16.2" lengthAdjust="spacingAndGlyphs" text-anchor="middle">GL-05</text>
<g class="lb">
<text class="cj" x="260.4" y="73.2" font-size="6.1">磨砂亚克力</text>
<text class="tx" x="290.9" y="73.2" textLength="17.5" lengthAdjust="spacingAndGlyphs">10mm</text>
</g>
<g class="lb">
<text class="cj" x="256" y="89.6" font-size="6.04">磨砂亚克力镀</text>
<text class="tx" x="292.2" y="89.6" textLength="4.3" lengthAdjust="spacingAndGlyphs">U</text>
<text class="cj" x="296.5" y="89.6" font-size="6.04">型槽</text>
</g>
<text class="tx" x="256" y="95.8" textLength="27.5" lengthAdjust="spacingAndGlyphs">5mm*5mm</text>
<text class="ds" x="334.5" y="123.2" text-anchor="middle" transform="rotate(29.4 334.5 123.2) translate(0 -1.2)"></text>
<text class="ds" x="328.4" y="133.2" text-anchor="middle" transform="rotate(29 328.4 133.2) translate(0 -0.8)">240</text>
<text class="ds" x="316.5" y="113.8" transform="rotate(29 316.5 113.8)">70</text>
<text class="ds" x="332" y="122.6" transform="rotate(29 332 122.6)">100</text>
<text class="ds" x="349.4" y="132.2" transform="rotate(29 349.4 132.2)">65</text>
<text class="dm" x="400.2" y="117.9" text-anchor="middle" transform="rotate(-29.9 400.2 117.9) translate(0 -0.9)">560</text>
<g class="lb">
<text class="cj" x="312" y="164.4" font-size="6.2">磨砂亚克力发光层板</text>
</g>
<text class="sc" x="348.6" y="174.3">1:10</text>
<text class="dm" x="589.4" y="59.2" text-anchor="middle">350</text>
<text class="dx" x="557" y="66.4" text-anchor="middle">48</text>
<text class="dx" x="572.7" y="66.4" text-anchor="middle">48</text>
<text class="dx" x="588.3" y="66.4" text-anchor="middle">48</text>
<text class="dx" x="604" y="66.4" text-anchor="middle">48</text>
<text class="dx" x="619.6" y="66.4" text-anchor="middle">48</text>
<text class="dx" x="565.1" y="66.4" text-anchor="middle">25</text>
<text class="dx" x="581.3" y="66.4" text-anchor="middle">25</text>
<text class="dx" x="597.5" y="66.4" text-anchor="middle">25</text>
<text class="dx" x="613.7" y="66.4" text-anchor="middle">25</text>
<text class="dm" x="541.8" y="100.4" transform="rotate(-90 541.8 100.4)" text-anchor="middle">220</text>
<text class="dx" x="634" y="79.6" transform="rotate(-90 634 79.6)" text-anchor="middle">30</text>
<text class="dx" x="634" y="91.2" transform="rotate(-90 634 91.2)" text-anchor="middle">70</text>
<text class="dx" x="634" y="106.4" transform="rotate(-90 634 106.4)" text-anchor="middle">70</text>
<text class="dx" x="634" y="119.2" transform="rotate(-90 634 119.2)" text-anchor="middle">40</text>
<text class="tt" x="488.2" y="93.4" textLength="16.2" lengthAdjust="spacingAndGlyphs" text-anchor="middle">GL-03</text>
<g class="lb">
<text class="cj" x="480.4" y="101" font-size="5.75">透明亚克力</text>
<text class="tx" x="509.1" y="101" textLength="12" lengthAdjust="spacingAndGlyphs">5mm</text>
</g>
<g class="lb">
<text class="cj" x="480.4" y="108.4" font-size="5.66">抽屉内胶囊层板</text>
</g>
<text class="dx" x="579.6" y="108.8" transform="rotate(-52 579.6 108.8)">2Ø60</text>
<g class="lb">
<text class="cj" x="529" y="164.5" font-size="6.16">亚克力抽屉内胶囊层板</text>
</g>
<text class="sc" x="591.2" y="174.3">1:10</text>
<text class="dx" x="308" y="261.6" transform="rotate(-90 308 261.6)" text-anchor="middle">90</text>
<text class="dx" x="318" y="249" transform="rotate(-90 318 249)" text-anchor="middle">12.5</text>
<text class="dx" x="318" y="261.8" transform="rotate(-90 318 261.8)" text-anchor="middle">35</text>
<text class="dx" x="318" y="274.6" transform="rotate(-90 318 274.6)" text-anchor="middle">30</text>
<text class="dx" x="380" y="288.6" text-anchor="middle">220</text>
<text class="dx" x="380" y="297.6" text-anchor="middle">240</text>
<text class="dx" x="329.4" y="288.4" text-anchor="middle">10</text>
<text class="dx" x="430.2" y="288.4" text-anchor="middle">10</text>
<text class="dx" x="440.2" y="243" text-anchor="middle">30</text>
<text class="dx" x="454.4" y="261.8" transform="rotate(-90 454.4 261.8)" text-anchor="middle">54</text>
<text class="dx" x="424" y="251.6" transform="rotate(-90 424 251.6)" text-anchor="middle">25</text>
<text class="dx" x="424" y="266" transform="rotate(-90 424 266)" text-anchor="middle">10</text>
<text class="dx" x="424" y="276" transform="rotate(-90 424 276)" text-anchor="middle">10</text>
<text class="tt" x="271.5" y="217.6" textLength="16.2" lengthAdjust="spacingAndGlyphs" text-anchor="middle">GL-04</text>
<g class="lb">
<text class="cj" x="261.2" y="226.4" font-size="6.1">透明亚克力</text>
<text class="tx" x="291.7" y="226.4" textLength="18.1" lengthAdjust="spacingAndGlyphs">10mm</text>
</g>
<g class="lb">
<text class="cj" x="261.2" y="232.9" font-size="6.1">镀</text>
<text class="tx" x="267.3" y="232.9" textLength="4.3" lengthAdjust="spacingAndGlyphs">U</text>
<text class="cj" x="271.6" y="232.9" font-size="6.1">型槽</text>
<text class="tx" x="283.8" y="232.9" textLength="21.4" lengthAdjust="spacingAndGlyphs">6mm*6mm</text>
</g>
<text class="tt" x="271.5" y="274.2" textLength="16.2" lengthAdjust="spacingAndGlyphs" text-anchor="middle">GL-04</text>
<g class="lb">
<text class="cj" x="261.2" y="282.7" font-size="6.1">透明亚克力</text>
<text class="tx" x="291.7" y="282.7" textLength="18.1" lengthAdjust="spacingAndGlyphs">10mm</text>
</g>
<text class="tt" x="271.5" y="304.9" textLength="16.2" lengthAdjust="spacingAndGlyphs" text-anchor="middle">GL-04</text>
<g class="lb">
<text class="cj" x="261.2" y="313.6" font-size="6.1">透明亚克力</text>
<text class="tx" x="291.7" y="313.6" textLength="18.1" lengthAdjust="spacingAndGlyphs">10mm</text>
</g>
<g class="lb">
<text class="cj" x="261.2" y="320.2" font-size="6.1">镀</text>
<text class="tx" x="267.3" y="320.2" textLength="4.3" lengthAdjust="spacingAndGlyphs">U</text>
<text class="cj" x="271.6" y="320.2" font-size="6.1">型槽</text>
<text class="tx" x="283.8" y="320.2" textLength="29.4" lengthAdjust="spacingAndGlyphs">6mm*6mm</text>
</g>
<text class="tt" x="512.7" y="218.2" textLength="16.2" lengthAdjust="spacingAndGlyphs" text-anchor="middle">GL-03</text>
<g class="lb">
<text class="cj" x="503.4" y="226.6" font-size="6.1">透明亚克力</text>
<text class="tx" x="533.9" y="226.6" textLength="12.5" lengthAdjust="spacingAndGlyphs">5mm</text>
</g>
<g class="lb">
<text class="cj" x="503.4" y="233.6" font-size="6">抽屉内胶囊层板</text>
</g>
<text class="tt" x="512.7" y="257.2" textLength="16.2" lengthAdjust="spacingAndGlyphs" text-anchor="middle">GL-04</text>
<g class="lb">
<text class="cj" x="503.4" y="265.6" font-size="6.1">透明亚克力</text>
<text class="tx" x="533.9" y="265.6" textLength="17.5" lengthAdjust="spacingAndGlyphs">10mm</text>
</g>
<g class="lb">
<text class="cj" x="503.4" y="272.8" font-size="6">定制胶囊型把手</text>
</g>
<text class="tt" x="512.7" y="304.4" textLength="16.2" lengthAdjust="spacingAndGlyphs" text-anchor="middle">GL-03</text>
<g class="lb">
<text class="cj" x="503.4" y="312.8" font-size="6.1">透明亚克力</text>
<text class="tx" x="533.9" y="312.8" textLength="12.5" lengthAdjust="spacingAndGlyphs">5mm</text>
</g>
<g class="lb">
<text class="cj" x="312.3" y="329.8" font-size="6.07">亚克力抽屉侧立面</text>
</g>
<text class="sc" x="358.8" y="339.4">1:5</text>
<text class="dx" x="299.2" y="416" transform="rotate(-90 299.2 416)" text-anchor="middle">100</text>
<text class="dx" x="308.2" y="403" transform="rotate(-90 308.2 403)" text-anchor="middle">12.5</text>
<text class="dx" x="308.2" y="415.6" transform="rotate(-90 308.2 415.6)" text-anchor="middle">35</text>
<text class="dx" x="308.2" y="428.4" transform="rotate(-90 308.2 428.4)" text-anchor="middle">30</text>
<text class="dx" x="491.4" y="403.8" transform="rotate(-90 491.4 403.8)" text-anchor="middle">12.5</text>
<text class="dx" x="491.4" y="416.4" transform="rotate(-90 491.4 416.4)" text-anchor="middle">35</text>
<text class="dx" x="491.4" y="428.4" transform="rotate(-90 491.4 428.4)" text-anchor="middle">30</text>
<text class="dx" x="445" y="406.4" transform="rotate(-90 445 406.4)" text-anchor="middle">17.5</text>
<text class="dx" x="445" y="423.4" transform="rotate(-90 445 423.4)" text-anchor="middle">30</text>
<text class="dx" x="400" y="443.4" text-anchor="middle">340</text>
<text class="dx" x="400" y="452" text-anchor="middle">360</text>
<text class="dx" x="322.4" y="443" text-anchor="middle">10</text>
<text class="dx" x="477.6" y="443" text-anchor="middle">10</text>
<text class="tt" x="271.5" y="376.6" textLength="16.2" lengthAdjust="spacingAndGlyphs" text-anchor="middle">GL-04</text>
<g class="lb">
<text class="cj" x="261.2" y="385" font-size="6.1">透明亚克力</text>
<text class="tx" x="291.7" y="385" textLength="18.1" lengthAdjust="spacingAndGlyphs">10mm</text>
</g>
<g class="lb">
<text class="cj" x="261.2" y="392" font-size="6.1">镀</text>
<text class="tx" x="267.3" y="392" textLength="4.3" lengthAdjust="spacingAndGlyphs">U</text>
<text class="cj" x="271.6" y="392" font-size="6.1">型槽</text>
<text class="tx" x="283.8" y="392" textLength="27.4" lengthAdjust="spacingAndGlyphs">6mm*6mm</text>
</g>
<text class="tt" x="271.5" y="428.2" textLength="16.2" lengthAdjust="spacingAndGlyphs" text-anchor="middle">GL-04</text>
<g class="lb">
<text class="cj" x="261.2" y="437" font-size="6.1">透明亚克力</text>
<text class="tx" x="291.7" y="437" textLength="18.1" lengthAdjust="spacingAndGlyphs">10mm</text>
</g>
<text class="tt" x="271.5" y="468.8" textLength="16.2" lengthAdjust="spacingAndGlyphs" text-anchor="middle">GL-03</text>
<g class="lb">
<text class="cj" x="261.2" y="477.4" font-size="6.1">透明亚克力</text>
<text class="tx" x="291.7" y="477.4" textLength="12.5" lengthAdjust="spacingAndGlyphs">5mm</text>
</g>
<text class="tt" x="405.3" y="376.6" textLength="16.2" lengthAdjust="spacingAndGlyphs" text-anchor="middle">GL-03</text>
<g class="lb">
<text class="cj" x="395.4" y="385" font-size="6.1">透明亚克力</text>
<text class="tx" x="425.9" y="385" textLength="12.5" lengthAdjust="spacingAndGlyphs">5mm</text>
</g>
<g class="lb">
<text class="cj" x="395.4" y="392" font-size="6">抽屉内胶囊层板</text>
</g>
<text class="tt" x="512.9" y="377.2" textLength="16.2" lengthAdjust="spacingAndGlyphs" text-anchor="middle">GL-04</text>
<g class="lb">
<text class="cj" x="503.6" y="385" font-size="6.1">透明亚克力</text>
<text class="tx" x="534.1" y="385" textLength="17.5" lengthAdjust="spacingAndGlyphs">10mm</text>
</g>
<g class="lb">
<text class="cj" x="503.6" y="392" font-size="6.1">镀</text>
<text class="tx" x="509.7" y="392" textLength="4.3" lengthAdjust="spacingAndGlyphs">U</text>
<text class="cj" x="514" y="392" font-size="6.1">型槽</text>
<text class="tx" x="526.2" y="392" textLength="27.4" lengthAdjust="spacingAndGlyphs">6mm*6mm</text>
</g>
<text class="tt" x="512.9" y="425.6" textLength="16.2" lengthAdjust="spacingAndGlyphs" text-anchor="middle">GL-04</text>
<g class="lb">
<text class="cj" x="503.6" y="434.4" font-size="6.1">透明亚克力</text>
<text class="tx" x="534.1" y="434.4" textLength="17.5" lengthAdjust="spacingAndGlyphs">10mm</text>
</g>
<g class="lb">
<text class="cj" x="503.6" y="441.4" font-size="6.1">镀</text>
<text class="tx" x="509.7" y="441.4" textLength="4.3" lengthAdjust="spacingAndGlyphs">U</text>
<text class="cj" x="514" y="441.4" font-size="6.1">型槽</text>
<text class="tx" x="526.2" y="441.4" textLength="27.4" lengthAdjust="spacingAndGlyphs">6mm*6mm</text>
</g>
<text class="tt" x="512.9" y="464.6" textLength="16.2" lengthAdjust="spacingAndGlyphs" text-anchor="middle">GL-04</text>
<g class="lb">
<text class="cj" x="503.6" y="472.4" font-size="6.1">透明亚克力</text>
<text class="tx" x="534.1" y="472.4" textLength="17.5" lengthAdjust="spacingAndGlyphs">10mm</text>
</g>
<g class="lb">
<text class="cj" x="312.3" y="485.8" font-size="6.07">亚克力抽屉后立面</text>
</g>
<text class="sc" x="358.8" y="495.4">1:5</text>
</g>
</svg>
</body>
</html>
